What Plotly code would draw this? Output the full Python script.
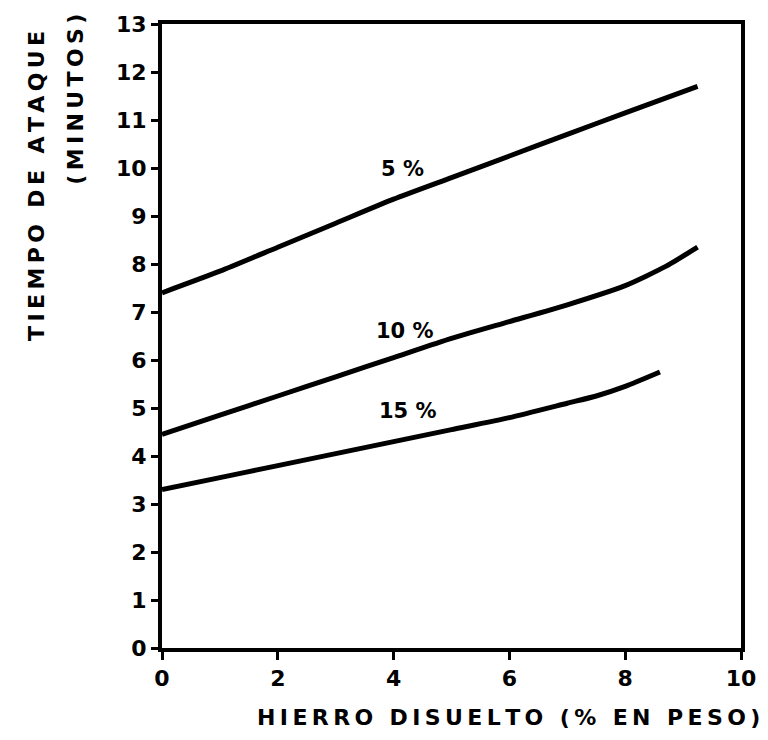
import plotly.graph_objects as go

# Data
x_5 = [0, 1, 2, 3, 4, 5, 6, 7, 8, 9.25]
y_5 = [7.4, 7.85, 8.35, 8.85, 9.35, 9.8, 10.25, 10.7, 11.15, 11.7]

x_10 = [0, 1, 2, 3, 4, 5, 6, 7, 8, 8.7, 9.25]
y_10 = [4.45, 4.85, 5.25, 5.65, 6.05, 6.45, 6.8, 7.15, 7.55, 7.95, 8.35]

x_15 = [0, 1, 2, 3, 4, 5, 6, 7, 7.5, 8, 8.6]
y_15 = [3.3, 3.55, 3.8, 4.05, 4.3, 4.55, 4.8, 5.1, 5.25, 5.45, 5.75]

curve_labels = ["5 %", "10 %", "15 %"]
label_x = [4.15, 4.2, 4.25]
label_y = [9.97, 6.6, 4.94]

x_ticks = [0, 2, 4, 6, 8, 10]
y_ticks = list(range(0, 14))

FONT = "DejaVu Sans"


def spaced(s):
    return "\u2009".join(s)


fig = go.Figure()
for xs, ys in [(x_5, y_5), (x_10, y_10), (x_15, y_15)]:
    fig.add_trace(go.Scatter(x=xs, y=ys, mode="lines",
                             line=dict(color="black", width=5, shape="spline", smoothing=0.6),
                             showlegend=False, hoverinfo="skip"))

for t, lx, ly in zip(curve_labels, label_x, label_y):
    fig.add_annotation(x=lx, y=ly, text="<b>" + t + "</b>", showarrow=False,
                       font=dict(family=FONT, size=21, color="black"))

fig.add_annotation(xref="paper", yref="paper", x=(35 - 162) / 586, y=(648 - 185) / 626,
                   xanchor="center", yanchor="middle",
                   text="<b>" + spaced("TIEMPO DE ATAQUE") + "</b>", textangle=-90, showarrow=False,
                   font=dict(family=FONT, size=22, color="black"))
fig.add_annotation(xref="paper", yref="paper", x=(75 - 162) / 586, y=(648 - 98) / 626,
                   xanchor="center", yanchor="middle",
                   text="<b>" + spaced("(MINUTOS)") + "</b>", textangle=-90, showarrow=False,
                   font=dict(family=FONT, size=22, color="black"))
fig.add_annotation(xref="paper", yref="paper", x=(513 - 162) / 586, y=(648 - 718) / 626,
                   xanchor="center", yanchor="middle",
                   text="<b>" + spaced("HIERRO DISUELTO (% EN PESO)") + "</b>", showarrow=False,
                   font=dict(family=FONT, size=22, color="black"))

fig.update_layout(
    width=768, height=740,
    margin=dict(l=162, r=20, t=22, b=92),
    plot_bgcolor="white", paper_bgcolor="white",
    font=dict(family=FONT, color="black"),
)
fig.update_xaxes(range=[0, 10], tickvals=x_ticks, ticktext=["<b>%d</b>" % v for v in x_ticks],
                 showgrid=False, zeroline=False, showline=True, linecolor="black", linewidth=4,
                 mirror=True, ticks="outside", ticklen=8, tickwidth=3, tickcolor="black",
                 tickfont=dict(size=22, family=FONT, color="black"))
fig.update_yaxes(range=[0, 13], tickvals=y_ticks, ticktext=["<b>%d</b>" % v for v in y_ticks],
                 showgrid=False, zeroline=False, showline=True, linecolor="black", linewidth=4,
                 mirror=True, ticks="outside", ticklen=7, tickwidth=3, tickcolor="black",
                 tickfont=dict(size=22, family=FONT, color="black"))

fig.write_html("out.html")
